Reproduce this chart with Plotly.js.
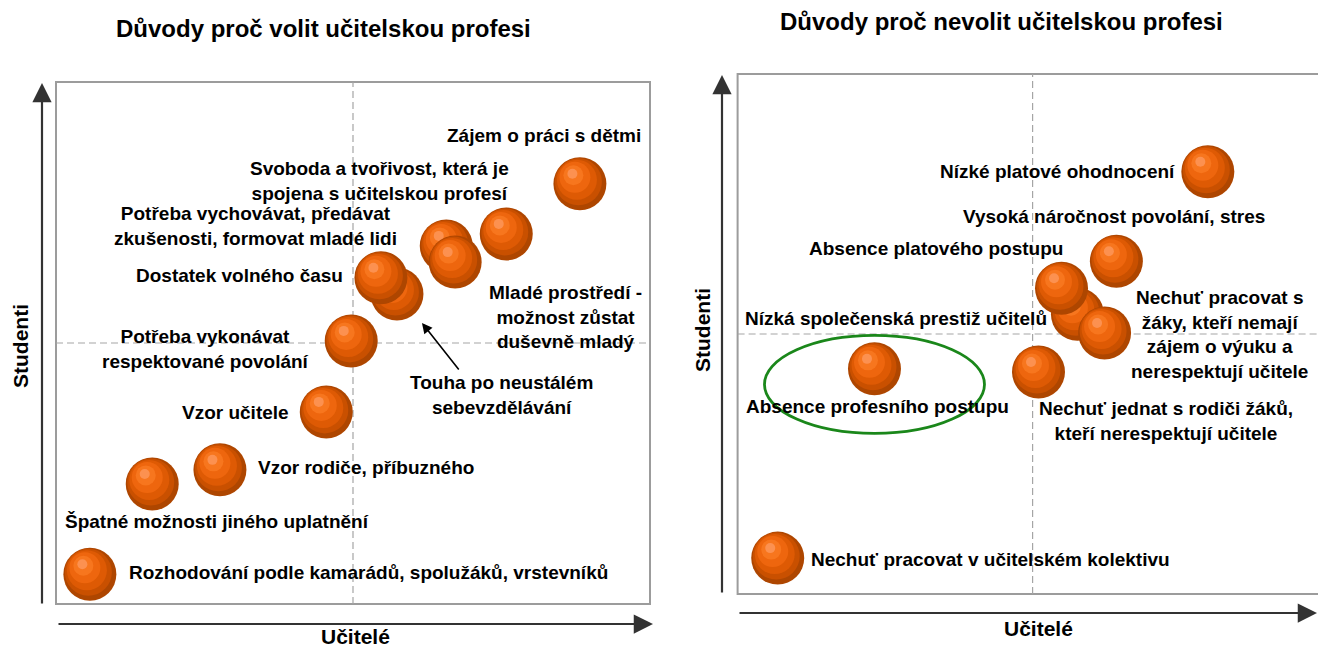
<!DOCTYPE html>
<html><head><meta charset="utf-8">
<script src="https://cdn.plot.ly/plotly-3.0.1.min.js"></script>
<style>html,body{margin:0;padding:0;background:#fff}#chart{width:1318px;height:648px}</style>
</head><body><div id="chart"></div>
<script>
// ---------- DATA ----------
const panelTitles = ['Důvody proč volit učitelskou profesi', 'Důvody proč nevolit učitelskou profesi'];
const axisTitleX = 'Učitelé';
const axisTitleY = 'Studenti';

// Left panel: reasons to choose teaching (x = teachers, y = students, 0–10)
const volitLabels = [
  'Zájem o práci s dětmi',
  'Svoboda a tvořivost, která je<br>spojena s učitelskou profesí',
  'Potřeba vychovávat, předávat<br>zkušenosti, formovat mladé lidi',
  'Mladé prostředí -<br>možnost zůstat<br>duševně mladý',
  'Touha po neustálém<br>sebevzdělávání',
  'Dostatek volného času',
  'Potřeba vykonávat<br>respektované povolání',
  'Vzor učitele',
  'Vzor rodiče, příbuzného',
  'Špatné možnosti jiného uplatnění',
  'Rozhodování podle kamarádů, spolužáků, vrstevníků'
];
const volitX = [8.82, 7.58, 6.57, 6.72, 5.74, 5.47, 4.97, 4.55, 2.76, 1.62, 0.57];
const volitY = [8.05, 7.09, 6.86, 6.55, 5.94, 6.25, 5.04, 3.68, 2.57, 2.30, 0.57];

// Right panel: reasons not to choose teaching
const nevolitLabels = [
  'Nízké platové ohodnocení',
  'Vysoká náročnost povolání, stres',
  'Nízká společenská prestiž učitelů',
  'Absence platového postupu',
  'Nechuť pracovat s<br>žáky, kteří nemají<br>zájem o výuku a<br>nerespektují učitele',
  'Nechuť jednat s rodiči žáků,<br>kteří nerespektují učitele',
  'Absence profesního postupu',
  'Nechuť pracovat v učitelském kolektivu'
];
const nevolitX = [7.97, 6.42, 5.76, 5.49, 6.22, 5.10, 2.32, 0.68];
const nevolitY = [8.12, 6.40, 5.38, 5.88, 5.02, 4.27, 4.33, 0.69];

// ---------- LAYOUT / STYLE ----------
const W = 1318, H = 648;
const px = v => v / W;
const py = v => 1 - v / H;
const FONT = 'Liberation Sans, Arial, Helvetica, sans-serif';

// pixel geometry of the plot boxes
const L = {x0: 56, x1: 650, y0: 82, y1: 604, full: 594};
const R = {x0: 737.6, x1: 1318, y0: 74, y1: 594, full: 590};

// label placement (anchor, pixel shifts relative to bubble)
const volitPlace = [
  {a: 'right', dx: 63, dy: 48},
  {a: 'center', dx: -127, dy: 53},
  {a: 'center', dx: -191, dy: 20},
  {a: 'center', dx: 110, dy: -55},
  {a: 'center', dx: 105, dy: -101},
  {a: 'right', dx: -36, dy: 2},
  {a: 'center', dx: -146, dy: -8},
  {a: 'right', dx: -35, dy: -1},
  {a: 'left', dx: 36, dy: 2},
  {a: 'center', dx: 65, dy: -38},
  {a: 'left', dx: 37, dy: 2}
];
const nevolitPlace = [
  {a: 'right', dx: -31, dy: 0},
  {a: 'center', dx: -2, dy: 45},
  {a: 'right', dx: -28, dy: -4},
  {a: 'right', dx: 3, dy: 40},
  {a: 'center', dx: 115, dy: -2},
  {a: 'center', dx: 127, dy: -49},
  {a: 'center', dx: 3, dy: -38},
  {a: 'left', dx: 31, dy: -1}
];

// bubble ring layers: diameter, offset (px, towards upper-left), colour
const rings = [
  {d: 53, dx: 0, dy: 0, c: '#AE4600'},
  {d: 47, dx: -1.5, dy: -2, c: '#C95000'},
  {d: 40, dx: -3, dy: -4, c: '#DE5A04'},
  {d: 31, dx: -5, dy: -6.5, c: '#EE660E'},
  {d: 20, dx: -6.5, dy: -8.5, c: '#F7761E'},
  {d: 10, dx: -7.5, dy: -10, c: '#FC9150'}
];

const traces = [];
function addBubbles(X, Y, xa, ya, sx, sy) {
  for (let i = 0; i < X.length; i++) {
    rings.forEach(r => {
      traces.push({
        type: 'scatter', mode: 'markers',
        x: [X[i] + r.dx * sx], y: [Y[i] - r.dy * sy],
        xaxis: xa, yaxis: ya,
        marker: {size: r.d, color: r.c, line: {width: 0}},
        hoverinfo: 'skip', showlegend: false
      });
    });
  }
}
addBubbles(volitX, volitY, 'x', 'y', 10 / L.full, 10 / (L.y1 - L.y0));
addBubbles(nevolitX, nevolitY, 'x2', 'y2', 10 / R.full, 10 / (R.y1 - R.y0));

const labelFont = {family: FONT, size: 19, color: '#000', weight: 700};
const annotations = [];
function addLabels(labels, X, Y, place, xr, yr) {
  labels.forEach((t, i) => {
    const p = place[i];
    annotations.push({
      text: t, x: X[i], y: Y[i], xref: xr, yref: yr,
      xanchor: p.a, yanchor: 'middle', align: 'center',
      xshift: p.dx, yshift: p.dy, showarrow: false, font: labelFont
    });
  });
}
addLabels(volitLabels, volitX, volitY, volitPlace, 'x', 'y');
addLabels(nevolitLabels, nevolitX, nevolitY, nevolitPlace, 'x2', 'y2');

// pointer from "Touha..." label to its bubble
annotations.push({
  text: '', x: volitX[4], y: volitY[4], xref: 'x', yref: 'y',
  xshift: 25, yshift: -29, ax: 38, ay: 48, showarrow: true,
  arrowhead: 2, arrowsize: 1.3, arrowwidth: 1.6, arrowcolor: '#000'
});

// titles
const titleFont = {family: FONT, size: 24, color: '#000', weight: 700};
annotations.push({text: panelTitles[0], x: px(323), y: py(29), xref: 'paper', yref: 'paper', xanchor: 'center', yanchor: 'middle', showarrow: false, font: titleFont});
annotations.push({text: panelTitles[1], x: px(1001), y: py(21), xref: 'paper', yref: 'paper', xanchor: 'center', yanchor: 'middle', showarrow: false, font: titleFont});

// axis titles
const axFont = {family: FONT, size: 21, color: '#000', weight: 700};
annotations.push({text: axisTitleX, x: px(356), y: py(636), xref: 'paper', yref: 'paper', xanchor: 'center', yanchor: 'middle', showarrow: false, font: axFont});
annotations.push({text: axisTitleX, x: px(1038), y: py(628), xref: 'paper', yref: 'paper', xanchor: 'center', yanchor: 'middle', showarrow: false, font: axFont});
annotations.push({text: axisTitleY, x: px(20), y: py(346), xref: 'paper', yref: 'paper', xanchor: 'center', yanchor: 'middle', textangle: -90, showarrow: false, font: axFont});
annotations.push({text: axisTitleY, x: px(702), y: py(330), xref: 'paper', yref: 'paper', xanchor: 'center', yanchor: 'middle', textangle: -90, showarrow: false, font: axFont});

// axis arrows
function arrow(tipX, tipY, tailX, tailY) {
  annotations.push({
    text: '', x: px(tipX), y: py(tipY), xref: 'paper', yref: 'paper',
    ax: tailX - tipX, ay: tailY - tipY, axref: 'pixel', ayref: 'pixel',
    showarrow: true, arrowhead: 2, arrowsize: 1.75, arrowwidth: 2.2, arrowcolor: '#333'
  });
}
arrow(42, 83, 42, 605);
arrow(653, 624, 57, 624);
arrow(722, 75, 722, 594);
arrow(1324, 613, 738, 613);

// boxes, quadrant lines, highlight ellipse
const boxLine = {color: '#9c9c9c', width: 2};
const dashLine = {color: '#a5a5a5', width: 1.2, dash: '7px,4px'};
const rightExt = (1328 - R.x0) / (R.x1 - R.x0);
const shapes = [
  {type: 'rect', xref: 'x domain', yref: 'y domain', x0: 0, x1: 1, y0: 0, y1: 1, line: boxLine, layer: 'below'},
  {type: 'line', xref: 'x', yref: 'y domain', x0: 5, x1: 5, y0: 0, y1: 1, line: dashLine, layer: 'below'},
  {type: 'line', xref: 'x domain', yref: 'y', x0: 0, x1: 1, y0: 5, y1: 5, line: dashLine, layer: 'below'},
  {type: 'rect', xref: 'x2 domain', yref: 'y2 domain', x0: 0, x1: rightExt, y0: 0, y1: 1, line: boxLine, layer: 'below'},
  {type: 'line', xref: 'x2', yref: 'y2 domain', x0: 5, x1: 5, y0: 0, y1: 1, line: dashLine, layer: 'below'},
  {type: 'line', xref: 'x2 domain', yref: 'y2', x0: 0, x1: rightExt, y0: 5, y1: 5, line: dashLine, layer: 'below'},
  {type: 'circle', xref: 'x2', yref: 'y2',
   x0: nevolitX[6] - 110 * 10 / R.full, x1: nevolitX[6] + 110 * 10 / R.full,
   y0: nevolitY[6] - 0.3 - 49 * 10 / 520, y1: nevolitY[6] - 0.3 + 49 * 10 / 520,
   line: {color: '#1a871a', width: 2.8}, layer: 'below'}
];

const hidden = {showline: false, showgrid: false, zeroline: false, showticklabels: false, ticks: '', fixedrange: true};
const layout = {
  width: W, height: H,
  margin: {l: 0, r: 0, t: 0, b: 0},
  paper_bgcolor: '#fff', plot_bgcolor: 'rgba(0,0,0,0)',
  showlegend: false,
  xaxis: Object.assign({domain: [px(L.x0), px(L.x1)], range: [0, 10]}, hidden),
  yaxis: Object.assign({domain: [py(L.y1), py(L.y0)], range: [0, 10]}, hidden),
  xaxis2: Object.assign({domain: [px(R.x0), 1], range: [0, 10 * (R.x1 - R.x0) / R.full], anchor: 'y2'}, hidden),
  yaxis2: Object.assign({domain: [py(R.y1), py(R.y0)], range: [0, 10], anchor: 'x2'}, hidden),
  annotations: annotations,
  shapes: shapes,
  hovermode: false
};

Plotly.newPlot('chart', traces, layout, {displayModeBar: false, staticPlot: true});
</script>
</body></html>
